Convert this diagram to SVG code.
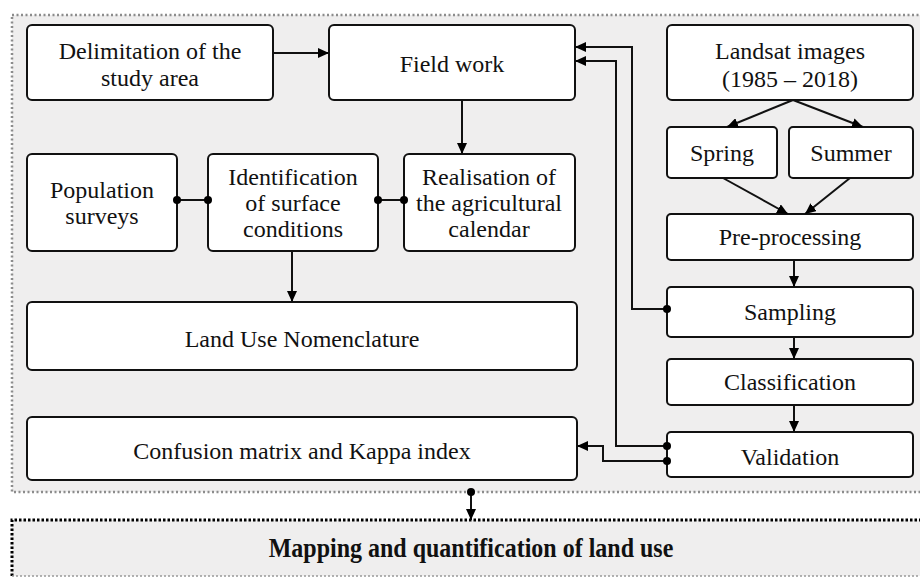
<svg xmlns="http://www.w3.org/2000/svg" width="920" height="577" viewBox="0 0 920 577">
<defs>
<marker id="arr" markerUnits="userSpaceOnUse" markerWidth="11" markerHeight="10" refX="11" refY="5" orient="auto">
<path d="M0,0 L11,5 L0,10 z" fill="#000"/>
</marker>
<style>
.box{fill:#fff;stroke:#111;stroke-width:2}
.t{font-family:"Liberation Serif","Times New Roman",serif;font-size:24px;fill:#111;text-anchor:middle}
.c{fill:none;stroke:#111;stroke-width:2}
.dot{fill:#000}
</style>
</defs>
<rect x="0" y="0" width="920" height="577" fill="#fff"/>
<g id="container">
<rect x="12" y="15" width="920" height="477" fill="#efeeee" stroke="#8c8c8c" stroke-width="2.5" stroke-dasharray="2 2.5"/>
</g>
<g id="mapping">
<rect x="12" y="520" width="920" height="56" fill="#efeeee"/>
<path d="M12,576 V520 H920" fill="none" stroke="#000" stroke-width="3" stroke-dasharray="2.5 2"/>
<path d="M12,576 H920" fill="none" stroke="#999" stroke-width="1.5" stroke-dasharray="2 2"/>
<text x="471" y="557" class="t" style="font-weight:bold" transform="translate(471 557) scale(1 1.15) translate(-471 -557)">Mapping and quantification of land use</text>
</g>
<g id="delimitation">
<rect class="box" x="27" y="25" width="246" height="75" rx="5"/>
<text class="t" x="150" y="59">Delimitation of the</text>
<text class="t" x="150" y="86">study area</text>
</g>
<g id="fieldwork">
<rect class="box" x="329" y="25" width="246" height="75" rx="5"/>
<text class="t" x="452" y="72">Field work</text>
</g>
<g id="landsat">
<rect class="box" x="667" y="25" width="246" height="75" rx="5"/>
<text class="t" x="790" y="59">Landsat images</text>
<text class="t" x="790" y="87">(1985 – 2018)</text>
</g>
<g id="spring">
<rect class="box" x="667" y="127" width="110" height="51" rx="4"/>
<text class="t" x="722" y="161">Spring</text>
</g>
<g id="summer">
<rect class="box" x="789" y="127" width="124" height="51" rx="4"/>
<text class="t" x="851" y="161">Summer</text>
</g>
<g id="population">
<rect class="box" x="27" y="154" width="150" height="97" rx="5"/>
<text class="t" x="102" y="198">Population</text>
<text class="t" x="102" y="224">surveys</text>
</g>
<g id="identification">
<rect class="box" x="208" y="154" width="170" height="97" rx="5"/>
<text class="t" x="293" y="185">Identification</text>
<text class="t" x="293" y="211">of surface</text>
<text class="t" x="293" y="237">conditions</text>
</g>
<g id="realisation">
<rect class="box" x="404" y="154" width="171" height="97" rx="5"/>
<text class="t" x="489" y="185">Realisation of</text>
<text class="t" x="489" y="211">the agricultural</text>
<text class="t" x="489" y="237">calendar</text>
</g>
<g id="preprocessing">
<rect class="box" x="667" y="214" width="246" height="46" rx="4"/>
<text class="t" x="790" y="245">Pre-processing</text>
</g>
<g id="landuse">
<rect class="box" x="27" y="302" width="550" height="68" rx="5"/>
<text class="t" x="302" y="347">Land Use Nomenclature</text>
</g>
<g id="sampling">
<rect class="box" x="667" y="287" width="246" height="50" rx="4"/>
<text class="t" x="790" y="320">Sampling</text>
</g>
<g id="classification">
<rect class="box" x="667" y="359" width="246" height="46" rx="4"/>
<text class="t" x="790" y="390">Classification</text>
</g>
<g id="confusion">
<rect class="box" x="27" y="417" width="550" height="63" rx="5"/>
<text class="t" x="302" y="459">Confusion matrix and Kappa index</text>
</g>
<g id="validation">
<rect class="box" x="667" y="432" width="246" height="45" rx="4"/>
<text class="t" x="790" y="465">Validation</text>
</g>
<g id="connectors">
<path class="c" d="M273,53 H329" marker-end="url(#arr)"/>
<path class="c" d="M462,100 V154" marker-end="url(#arr)"/>
<path class="c" d="M793,100 L727,127" marker-end="url(#arr)"/>
<path class="c" d="M793,100 L863,127" marker-end="url(#arr)"/>
<path class="c" d="M723,178 L788,214" marker-end="url(#arr)"/>
<path class="c" d="M850,178 L805,214" marker-end="url(#arr)"/>
<path class="c" d="M794,260 V287" marker-end="url(#arr)"/>
<path class="c" d="M794,337 V359" marker-end="url(#arr)"/>
<path class="c" d="M794,405 V432" marker-end="url(#arr)"/>
<path class="c" d="M667,309 H632 V47 H575" marker-end="url(#arr)"/>
<circle class="dot" cx="667" cy="309" r="4"/>
<path class="c" d="M667,446 H616 V61 H575" marker-end="url(#arr)"/>
<circle class="dot" cx="667" cy="446" r="4"/>
<path class="c" d="M667,461 H603 V446 H577" marker-end="url(#arr)"/>
<circle class="dot" cx="667" cy="461" r="4"/>
<path class="c" d="M177,200 H208"/>
<circle class="dot" cx="177" cy="200" r="4"/>
<circle class="dot" cx="208" cy="200" r="4"/>
<path class="c" d="M378,200 H404"/>
<circle class="dot" cx="378" cy="200" r="4"/>
<circle class="dot" cx="404" cy="200" r="4"/>
<path class="c" d="M292,251 V302" marker-end="url(#arr)"/>
<path class="c" d="M471,492 V520" marker-end="url(#arr)"/>
<circle class="dot" cx="471" cy="492" r="4"/>
</g>
</svg>
